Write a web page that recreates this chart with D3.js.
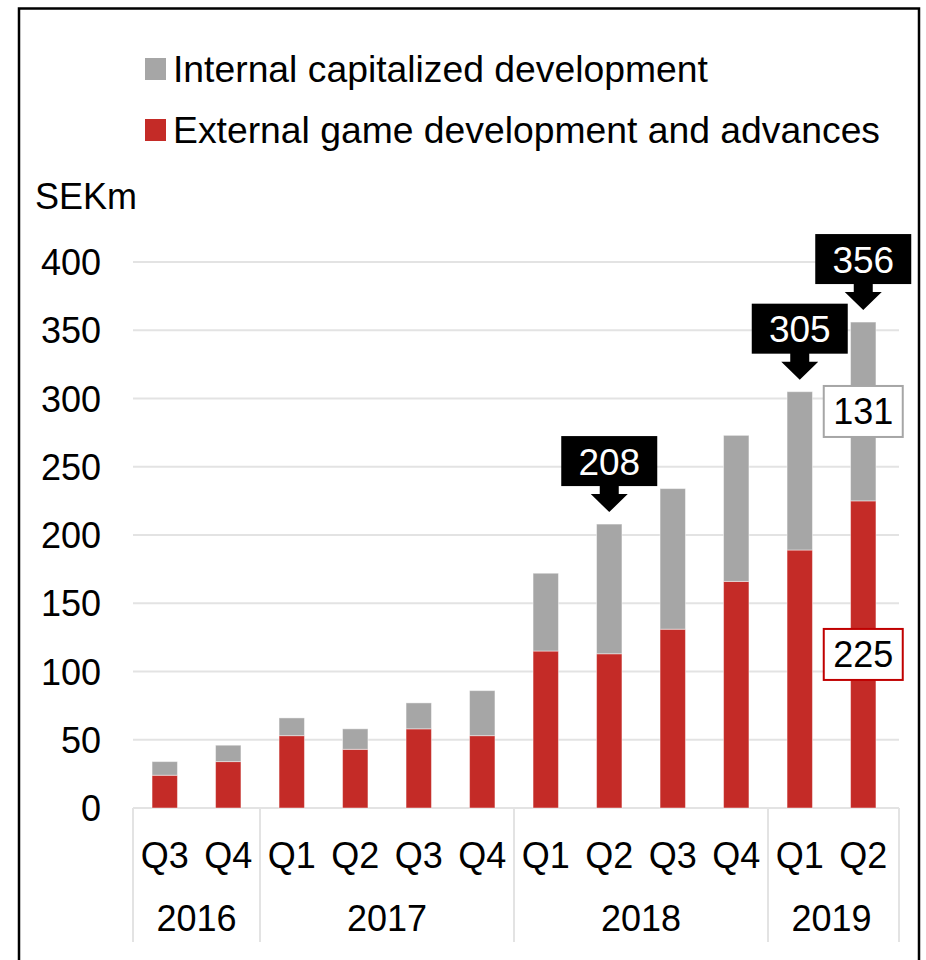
<!DOCTYPE html>
<html><head><meta charset="utf-8">
<script src="https://cdn.jsdelivr.net/npm/d3@7"></script>
<style>body{margin:0;background:#fff;} svg{display:block;font-family:"Liberation Sans",Arial,sans-serif;}</style>
</head><body>
<script>
const quarters = ["Q3","Q4","Q1","Q2","Q3","Q4","Q1","Q2","Q3","Q4","Q1","Q2"];
const periodYears = ["2016","2016","2017","2017","2017","2017","2018","2018","2018","2018","2019","2019"];
const years = ["2016","2017","2018","2019"];
const external = [24, 34, 53, 43, 58, 53, 115, 113, 131, 166, 189, 225];
const internal = [10, 12, 13, 15, 19, 33, 57, 95, 103, 107, 116, 131];
const yTicks = [0, 50, 100, 150, 200, 250, 300, 350, 400];
const seriesNames = ["Internal capitalized development", "External game development and advances"];
const totalCallouts = [{i: 7, label: "208"}, {i: 10, label: "305"}, {i: 11, label: "356"}];
const segmentLabels = [{i: 11, series: "internal", label: "131"}, {i: 11, series: "external", label: "225"}];

const W = 926, H = 960;
const RED = "#c42b27", GRAY = "#a6a6a6", GRID = "#e3e3e3";
const FS = 36;
const PLOT_L = 133, PLOT_R = 899;

const svg = d3.select("body").append("svg").attr("width", W).attr("height", H);
svg.append("rect").attr("width", W).attr("height", H).attr("fill", "#fff");

const data = quarters.map((q, i) => ({i, q, year: periodYears[i], external: external[i], internal: internal[i]}));

const x = d3.scaleBand().domain(d3.range(quarters.length)).range([PLOT_L, 895]).paddingInner(0.6).paddingOuter(0.3);
const y = d3.scaleLinear().domain([0, 400]).range([808, 262]);

// gridlines
svg.append("g").selectAll("line").data(yTicks).join("line")
  .attr("x1", PLOT_L).attr("x2", PLOT_R).attr("y1", d => y(d)).attr("y2", d => y(d))
  .attr("stroke", GRID).attr("stroke-width", 2);

// y axis labels
const yAxis = d3.axisLeft(y).tickValues(yTicks).tickSize(0).tickPadding(0);
const yg = svg.append("g").attr("transform", "translate(101,0)").call(yAxis);
yg.select(".domain").remove();
yg.selectAll("text").attr("font-size", FS).attr("font-family", "Liberation Sans, Arial, sans-serif").attr("fill", "#000").attr("dy", "0.35em");

svg.append("text").attr("x", 35).attr("y", 209).attr("font-size", FS).text("SEKm");

// stacked bars
const stack = d3.stack().keys(["external", "internal"])(data);
const colors = {external: RED, internal: GRAY};
svg.append("g").selectAll("g").data(stack).join("g")
  .attr("fill", d => colors[d.key])
  .selectAll("rect").data(d => d).join("rect")
  .attr("x", d => x(d.data.i)).attr("width", x.bandwidth())
  .attr("y", d => y(d[1])).attr("height", d => y(d[0]) - y(d[1]))
  .attr("stroke", "#fff").attr("stroke-opacity", 0.45).attr("stroke-width", 1);

// category axis separators
const step = x.step();
const yearStarts = years.map(yr => periodYears.indexOf(yr));
const sepX = yearStarts.map(d => PLOT_L + d * step).concat([PLOT_R]);
svg.append("g").selectAll("line").data(sepX).join("line")
  .attr("x1", d => d).attr("x2", d => d)
  .attr("y1", 808).attr("y2", 942).attr("stroke", GRID).attr("stroke-width", 2);

// quarter labels
svg.append("g").selectAll("text").data(data).join("text")
  .attr("x", d => x(d.i) + x.bandwidth() / 2).attr("y", 868)
  .attr("text-anchor", "middle").attr("font-size", FS).text(d => d.q);

// year labels
svg.append("g").selectAll("text").data(years).join("text")
  .attr("x", yr => {
    const idx = data.filter(d => d.year === yr).map(d => d.i);
    return PLOT_L + (d3.min(idx) + d3.max(idx) + 1) / 2 * step;
  })
  .attr("y", 931).attr("text-anchor", "middle").attr("font-size", FS).text(yr => yr);

// callouts for totals
const co = svg.append("g").selectAll("g").data(totalCallouts).join("g")
  .attr("transform", d => `translate(${x(d.i) + x.bandwidth() / 2},${y(external[d.i] + internal[d.i])})`);
co.append("rect").attr("x", -48).attr("y", -88).attr("width", 96).attr("height", 50).attr("fill", "#000");
co.append("path").attr("d", "M-9.5,-39 V-30 H-18.5 L0,-12 L18.5,-30 H9.5 V-39 Z").attr("fill", "#000");
co.append("text").attr("x", 0).attr("y", -49.5).attr("text-anchor", "middle").attr("font-size", 37)
  .attr("fill", "#fff").text(d => d.label);

// segment labels
const sl = svg.append("g").selectAll("g").data(segmentLabels).join("g")
  .attr("transform", d => {
    const lo = d.series === "external" ? 0 : external[d.i];
    const hi = d.series === "external" ? external[d.i] : external[d.i] + internal[d.i];
    return `translate(${x(d.i) + x.bandwidth() / 2},${y((lo + hi) / 2)})`;
  });
sl.append("rect").attr("x", -39.5).attr("y", -25.5).attr("width", 79).attr("height", 51)
  .attr("fill", "#fff").attr("stroke", d => d.series === "external" ? "#c00000" : "#a6a6a6").attr("stroke-width", 2);
sl.append("text").attr("x", 0).attr("y", 12.5).attr("text-anchor", "middle").attr("font-size", 36).text(d => d.label);

// legend
const lg = svg.append("g").selectAll("g").data(seriesNames).join("g")
  .attr("transform", (d, i) => `translate(145,${69 + i * 61})`);
lg.append("rect").attr("x", 0).attr("y", -11).attr("width", 21).attr("height", 22).attr("fill", (d, i) => i === 0 ? GRAY : RED);
lg.append("text").attr("x", 28).attr("y", 12.5).attr("font-size", 37.3).text(d => d);

// frame
svg.append("rect").attr("x", 19).attr("y", 8.5).attr("width", 900).attr("height", 980)
  .attr("fill", "none").attr("stroke", "#000").attr("stroke-width", 2.5);
</script>
</body></html>
